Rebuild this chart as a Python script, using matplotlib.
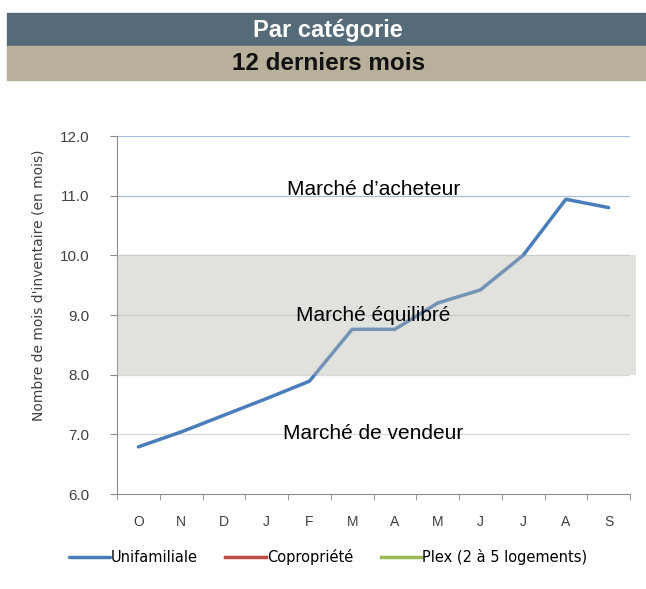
import matplotlib
matplotlib.use("Agg")
import matplotlib.pyplot as plt
from matplotlib.patches import Rectangle

months = ["O", "N", "D", "J", "F", "M", "A", "M", "J", "J", "A", "S"]
unifamiliale = [6.79, 7.04, 7.32, 7.60, 7.89, 8.76, 8.76, 9.20, 9.42, 10.00, 10.94, 10.80]
series_names = ["Unifamiliale", "Copropriété", "Plex (2 à 5 logements)"]
series_colors = ["#4a7ebb", "#be4b48", "#98b954"]
yticks = [6.0, 7.0, 8.0, 9.0, 10.0, 11.0, 12.0]
balanced_low, balanced_high = 8.0, 10.0

plt.rcParams["font.family"] = ["Liberation Sans", "DejaVu Sans"]

fig = plt.figure(figsize=(6.46, 5.89), dpi=100)

# header bands
fig.patches.append(Rectangle((7 / 646, 1 - 46.5 / 589), 1, 34 / 589,
                             transform=fig.transFigure, color="#566b7a", zorder=0))
fig.patches.append(Rectangle((7 / 646, 1 - 80 / 589), 1, 33.5 / 589,
                             transform=fig.transFigure, color="#b8b09b", zorder=0))
fig.text(0.508, 1 - 30 / 589, "Par catégorie", ha="center", va="center",
         color="white", fontsize=17, fontweight="bold")
fig.text(0.508, 1 - 63.5 / 589, "12 derniers mois", ha="center", va="center",
         color="#111111", fontsize=17.5, fontweight="bold")

ax = fig.add_axes([117 / 646, 95 / 589, 513 / 646, 358 / 589])
x = list(range(len(months)))

ax.plot(x, unifamiliale, color=series_colors[0], lw=2.5, zorder=2,
        solid_capstyle="round", label=series_names[0])
ax.plot([], [], color=series_colors[1], lw=2.5, label=series_names[1])
ax.plot([], [], color=series_colors[2], lw=2.5, label=series_names[2])

# balanced market band, drawn over the line
ax.axhspan(balanced_low, balanced_high, xmin=0, xmax=1.012, color="#b4b4ae",
           alpha=0.4, lw=0, zorder=3, clip_on=False)

ax.set_xlim(-0.5, len(months) - 0.5)
ax.set_ylim(6.0, 12.0)
ax.set_yticks(yticks)
ax.set_yticklabels([f"{v:.1f}" for v in yticks])
for v in yticks[1:]:
    c = "#a9bde0" if v >= 11 else "#d9d9d9"
    ax.axhline(v, color=c, lw=0.9, zorder=1)

ax.set_xticks(x)
ax.set_xticklabels(months)
ax.set_xticks([i - 0.5 for i in range(len(months) + 1)], minor=True)
ax.tick_params(axis="x", which="major", length=0, pad=15, labelsize=10, labelcolor="#404040")
ax.tick_params(axis="x", which="minor", length=4, color="#8c8c8c", direction="out")
ax.tick_params(axis="y", length=5, color="#8c8c8c", labelsize=11, labelcolor="#404040", pad=15)

for s in ["top", "right"]:
    ax.spines[s].set_visible(False)
for s in ["left", "bottom"]:
    ax.spines[s].set_color("#8c8c8c")

ax.set_ylabel("Nombre de mois d'inventaire (en mois)", fontsize=10, color="#404040",
              family=["DejaVu Sans"])
ax.yaxis.set_label_coords(-0.14, 0.584)

ax.text(0.5, 11.1, "Marché d’acheteur", transform=ax.get_yaxis_transform(),
        ha="center", va="center", fontsize=15, zorder=4)
ax.text(0.5, 9.0, "Marché équilibré", transform=ax.get_yaxis_transform(),
        ha="center", va="center", fontsize=15, zorder=4)
ax.text(0.5, 7.02, "Marché de vendeur", transform=ax.get_yaxis_transform(),
        ha="center", va="center", fontsize=15, zorder=4)

ax.legend(loc="center", bbox_to_anchor=(0.412, -0.175), ncol=3, frameon=False,
          handlelength=2.8, handletextpad=0.05, columnspacing=1.9,
          prop={"family": "DejaVu Sans", "size": 10.5})

fig.savefig("out.png", dpi=100)
